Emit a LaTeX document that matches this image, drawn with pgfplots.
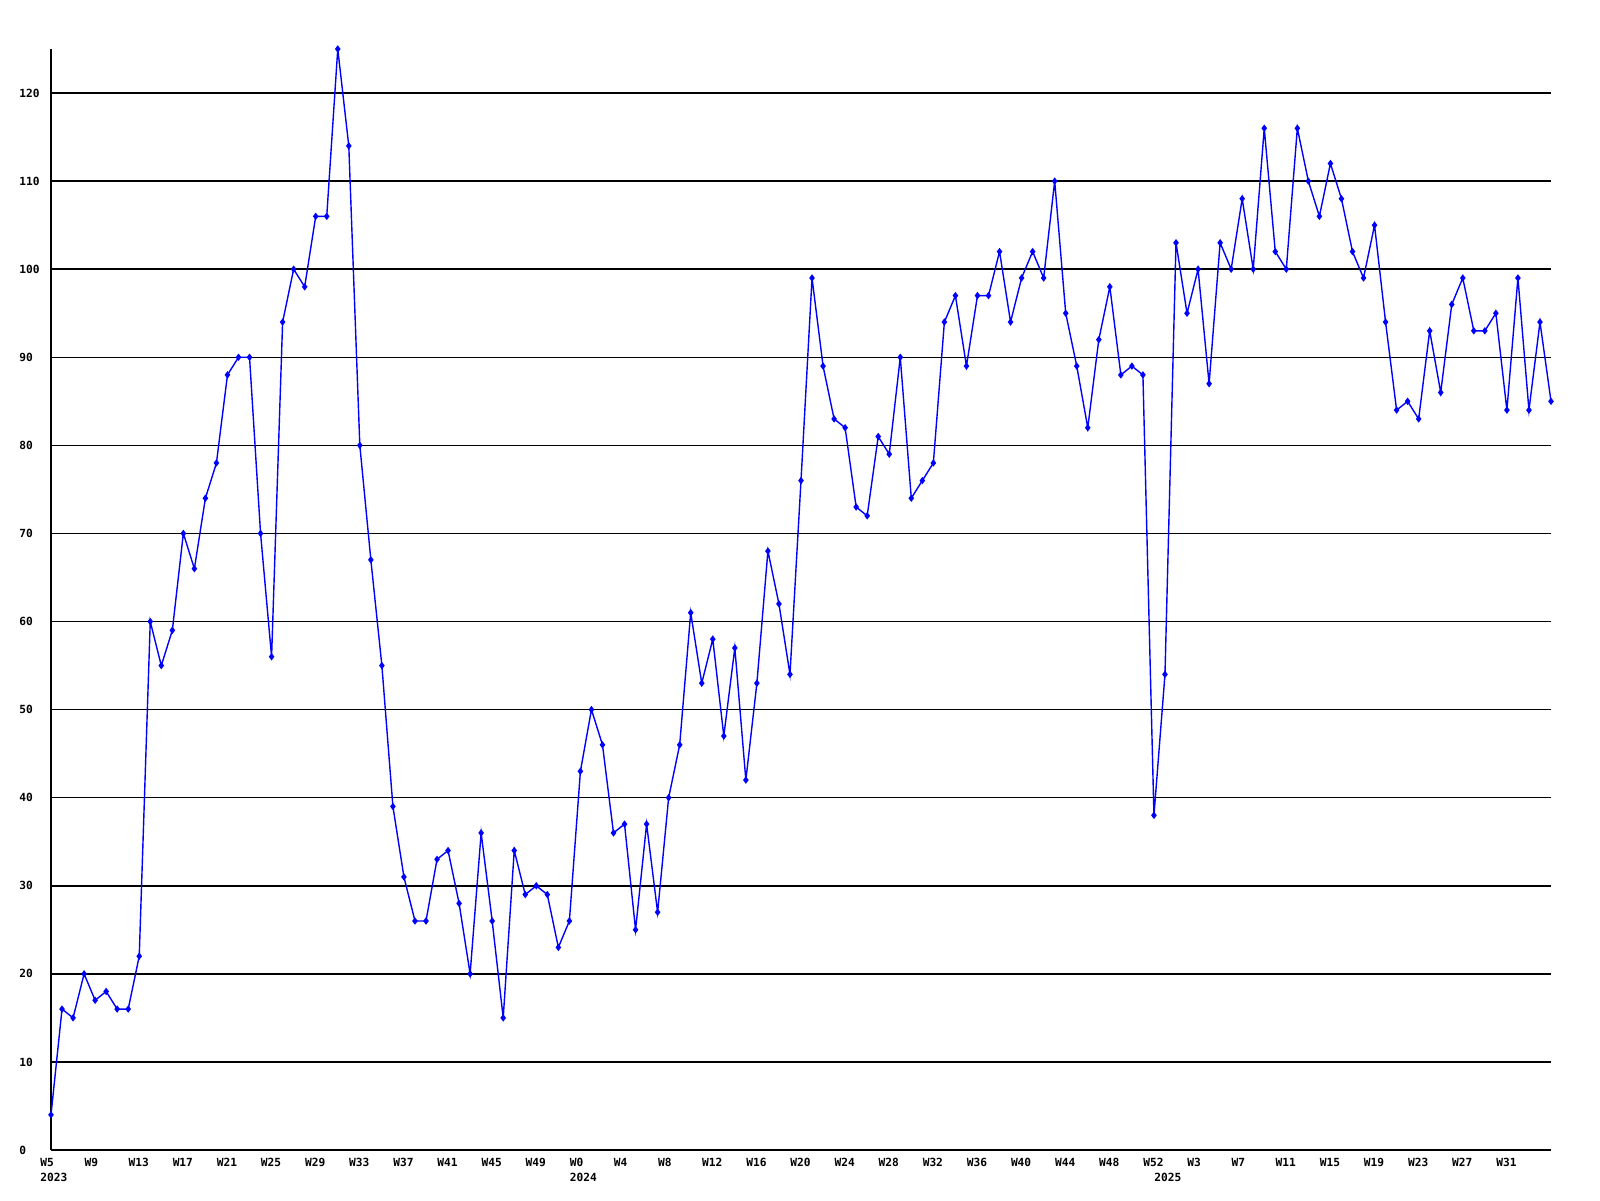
\documentclass[border=0pt]{standalone}
\usepackage{fontspec}
\usepackage{pgfplots}
\pgfplotsset{compat=1.18}
\newfontfamily\pixfont{DejaVu Sans Mono}
\newcommand\lbl{\pixfont\bfseries\fontsize{5.6}{7.5}\selectfont}
\begin{document}
\begin{tikzpicture}
\useasboundingbox (-25.5pt,-25pt) rectangle (774.5pt,575pt);
\begin{axis}[
  scale only axis,
  width=750pt, height=550.5pt,
  xmin=0, xmax=136, ymin=0, ymax=125,
  clip=false,
  axis lines*=left,
  axis line style={black, line width=0.75pt},
  major tick length=0pt,
  ymajorgrids,
  grid style={black, line width=0.75pt},
  ytick={0,10,...,120},
  xtick={0,4,...,132},
  xticklabels={W5\\2023,W9,W13,W17,W21,W25,W29,W33,W37,W41,W45,W49,
    W0\\2024,W4,W8,W12,W16,W20,W24,W28,W32,W36,W40,W44,W48,W52,
    W3,W7,W11,W15,W19,W23,W27,W31},
  extra x ticks={101},
  extra x tick labels={\phantom{W0}\\2025},
  extra x tick style={grid=none},
  xticklabel style={anchor=north west, inner sep=0pt, xshift=-5.5pt, yshift=-4pt, align=left, font=\lbl},
  yticklabel style={anchor=west, inner sep=0pt, xshift=-16pt, font=\lbl},
  /pgf/number format/assume math mode=true,
]
\addplot[blue, line width=0.7pt, mark=diamond*, mark size=1.3pt, mark options={fill=blue}] table {
x y
0 4
1 16
2 15
3 20
4 17
5 18
6 16
7 16
8 22
9 60
10 55
11 59
12 70
13 66
14 74
15 78
16 88
17 90
18 90
19 70
20 56
21 94
22 100
23 98
24 106
25 106
26 125
27 114
28 80
29 67
30 55
31 39
32 31
33 26
34 26
35 33
36 34
37 28
38 20
39 36
40 26
41 15
42 34
43 29
44 30
45 29
46 23
47 26
48 43
49 50
50 46
51 36
52 37
53 25
54 37
55 27
56 40
57 46
58 61
59 53
60 58
61 47
62 57
63 42
64 53
65 68
66 62
67 54
68 76
69 99
70 89
71 83
72 82
73 73
74 72
75 81
76 79
77 90
78 74
79 76
80 78
81 94
82 97
83 89
84 97
85 97
86 102
87 94
88 99
89 102
90 99
91 110
92 95
93 89
94 82
95 92
96 98
97 88
98 89
99 88
100 38
101 54
102 103
103 95
104 100
105 87
106 103
107 100
108 108
109 100
110 116
111 102
112 100
113 116
114 110
115 106
116 112
117 108
118 102
119 99
120 105
121 94
122 84
123 85
124 83
125 93
126 86
127 96
128 99
129 93
130 93
131 95
132 84
133 99
134 84
135 94
136 85
};
\end{axis}
\end{tikzpicture}
\end{document}
